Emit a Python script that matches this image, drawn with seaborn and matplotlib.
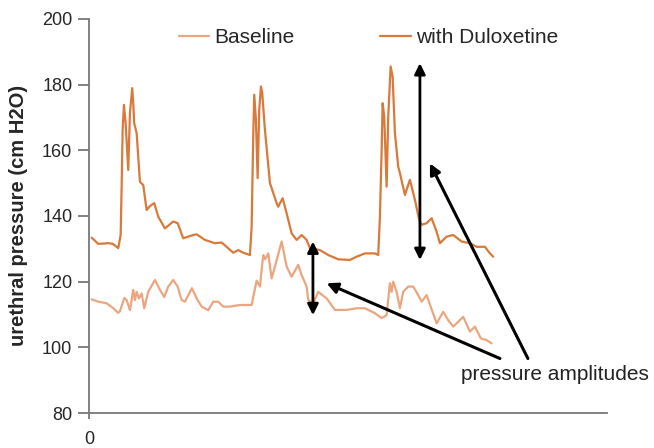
import pandas as pd
import matplotlib
matplotlib.use("Agg")
import matplotlib.pyplot as plt
import seaborn as sns

# time axis (arbitrary units)
t_dulox = [2.7, 9.3, 19.3, 24, 29.3, 31.7, 32.7, 33.7, 35, 36.7, 39.3, 41, 43.3, 44.3, 45.3,
           47.7, 51, 54.3, 57.7, 61, 65.3, 69.3, 76, 84.3, 88.7, 94.3, 104.3, 107.7, 116,
           126, 132.7, 137.7, 144.3, 149.3, 154.3, 161, 162.7, 164.3, 165.3, 167, 168.7,
           170.3, 172, 173.3, 176, 181, 187.7, 189.3, 193.7, 197.7, 202.7, 207.7, 212.7,
           217.7, 221, 231, 239.3, 249.3, 261, 267.7, 276, 286, 289.3, 291, 292.7, 293.7,
           295.3, 297.7, 299.3, 301.7, 303.7, 306, 309.3, 311, 316, 321, 326, 330.3, 332.7,
           337.7, 342.7, 347.7, 351, 357.7, 364.3, 372.7, 381, 387.7, 396, 401, 404.3]
p_dulox = [133.4, 131.5, 131.7, 131.5, 130.2, 134.2, 148.9, 166.2, 173.8, 168.2, 154, 171.3,
           178.9, 174.3, 168.2, 165.2, 150.4, 149.4, 141.8, 143, 143.9, 139.8, 136.2, 138.3,
           137.8, 133.2, 134.2, 134.4, 132.7, 131.7, 131.9, 130.6, 128.8, 129.6, 128.8,
           128.1, 136.7, 164.2, 176.9, 169.2, 151.5, 172.3, 179.4, 177.4, 166.2, 150, 143.9,
           142.8, 145.4, 140.8, 134.7, 132.7, 134.2, 132.7, 130.2, 129.6, 128.1, 126.8,
           126.6, 127.6, 128.6, 128.6, 128.1, 139.8, 160.1, 174.3, 170.2, 148.9, 170.2,
           185.5, 182.4, 165.2, 155, 153, 146.4, 151, 144.9, 138.8, 137.3, 137.8, 139.3,
           135.2, 131.7, 133.7, 134.2, 132.2, 131.7, 130.6, 130.6, 128.6, 127.6]

t_base = [2.7, 9.3, 17.7, 24.3, 29.3, 31, 35.3, 37.7, 41, 44.3, 46, 47.7, 50, 52.7, 55.3,
          59.3, 66, 71, 75.3, 79.3, 84.3, 88.7, 92.7, 96, 103, 107.7, 112.7, 119.3, 124.3,
          129.3, 134.3, 141, 151, 162.7, 167.7, 171, 174.3, 176, 177.7, 179.3, 182.7, 186,
          192.7, 197.7, 202.7, 209.3, 212.7, 217.7, 219.3, 224.3, 229.3, 237.7, 246, 257.7,
          267.7, 276, 286, 292.7, 297.7, 301, 302.7, 304.3, 307.7, 311, 314.3, 319.3,
          324.3, 329.3, 332.7, 337.7, 347.7, 354.3, 359.3, 364.3, 374.3, 381, 386, 392,
          397.7, 402.7]
p_base = [114.6, 113.9, 113.4, 111.9, 110.5, 111, 115, 114.4, 111.3, 117.5, 114.4, 116.9,
          114.9, 116.4, 111.9, 116.9, 120.5, 117.5, 115.3, 118.5, 120.5, 118.5, 114.4,
          113.9, 118, 114.9, 112.4, 111.3, 113.9, 113.9, 112.4, 112.4, 112.9, 112.9, 120.3,
          118.5, 128.1, 126.8, 127.6, 128.6, 121, 124.6, 132.2, 124.6, 121.5, 125.1, 122,
          118.5, 114.4, 113.4, 116.9, 114.9, 111.4, 111.4, 111.9, 111.9, 110.4, 108.9,
          109.8, 119.5, 116.9, 120, 116.9, 111.9, 116.9, 118.5, 118.5, 115.9, 113.9, 115.9,
          107.3, 110.8, 108.3, 106.3, 109.3, 104.8, 106.3, 102.7, 102.2, 101.2]

y_ticks = [80, 100, 120, 140, 160, 180, 200]

c_base = "#eba57f"
c_dulox = "#d9793a"

df_base = pd.DataFrame({"time": t_base, "pressure": p_base})
df_dulox = pd.DataFrame({"time": t_dulox, "pressure": p_dulox})

sns.set_style("ticks")
plt.rcParams["font.family"] = ["Liberation Sans", "DejaVu Sans"]

fig = plt.figure(figsize=(6.54, 4.48), dpi=100)
ax = fig.add_axes([0.136, 0.078, 0.792, 0.88])

sns.lineplot(data=df_base, x="time", y="pressure", color=c_base, lw=1.6,
             label="Baseline", sort=False, estimator=None, ax=ax)
sns.lineplot(data=df_dulox, x="time", y="pressure", color=c_dulox, lw=1.6,
             label="with Duloxetine", sort=False, estimator=None, ax=ax)

ax.set_xlim(0, 518)
ax.set_ylim(80, 200)
ax.set_yticks(y_ticks)
ax.set_xticks([0])
ax.set_xlabel("")
ax.set_ylabel("urethral pressure (cm H2O)", fontsize=14.5, fontweight="bold", labelpad=10)
ax.tick_params(axis="y", labelsize=13, length=8, width=1.3, color="#777777", pad=4)
ax.tick_params(axis="x", labelsize=13, length=4, width=1.3, color="#777777", pad=9)
sns.despine(ax=ax)
for s in ["left", "bottom"]:
    ax.spines[s].set_color("#777777")
    ax.spines[s].set_linewidth(1.3)

# amplitude arrows
arrow_kw = dict(arrowstyle="<|-|>", color="black", lw=2, mutation_scale=16, shrinkA=0, shrinkB=0)
ax.annotate("", xy=(224, 109.8), xytext=(224, 132.2), arrowprops=arrow_kw)
ax.annotate("", xy=(331, 126.6), xytext=(331, 186.5), arrowprops=arrow_kw)

ptr_kw = dict(arrowstyle="-|>", color="black", lw=2.2, mutation_scale=16, shrinkA=0, shrinkB=0)
ax.annotate("", xy=(237.7, 119.5), xytext=(411, 96.6), arrowprops=ptr_kw)
ax.annotate("", xy=(341, 156), xytext=(439, 96.6), arrowprops=ptr_kw)
ax.text(466, 91.6, "pressure amplitudes", fontsize=15, ha="center", va="center", color="#222222")

ax.legend(loc="center", bbox_to_anchor=(0.54, 0.952), ncol=2, frameon=False, fontsize=15,
          handlelength=1.45, handletextpad=0.25, columnspacing=4.1, borderaxespad=0)

fig.savefig("out.png", dpi=100)
